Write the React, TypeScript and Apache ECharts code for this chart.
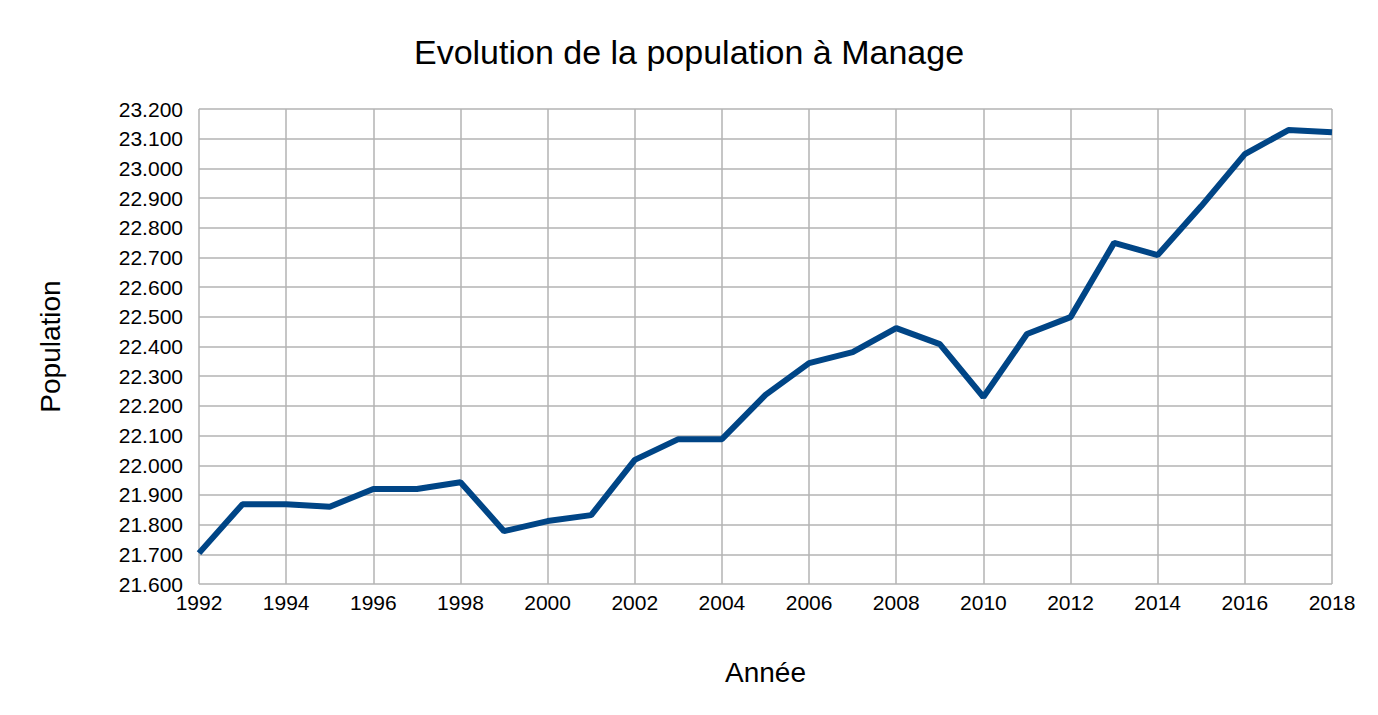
import React, { useEffect, useRef } from 'react';
import * as echarts from 'echarts';

const years = [1992, 1993, 1994, 1995, 1996, 1997, 1998, 1999, 2000, 2001, 2002, 2003, 2004, 2005, 2006, 2007, 2008, 2009, 2010, 2011, 2012, 2013, 2014, 2015, 2016, 2017, 2018];
const population = [21704, 21869, 21869, 21860, 21920, 21920, 21943, 21778, 21812, 21832, 22018, 22088, 22088, 22237, 22344, 22381, 22462, 22408, 22230, 22442, 22499, 22749, 22708, 22873, 23048, 23129, 23122];

const font = '"Liberation Sans", Arial, sans-serif';

const App: React.FC = () => {
  const chartRef = useRef<HTMLDivElement>(null);

  useEffect(() => {
    const chart = echarts.init(chartRef.current!, null, { renderer: 'svg' });
    chart.setOption({
      animation: false,
      backgroundColor: '#ffffff',
      title: {
        text: 'Evolution de la population à Manage',
        left: 'center',
        top: 30,
        textStyle: { fontFamily: font, fontSize: 34, fontWeight: 'normal', color: '#000' },
      },
      grid: { left: 199, right: 46, top: 109, bottom: 131 },
      xAxis: {
        type: 'value',
        min: 1992,
        max: 2018,
        interval: 2,
        name: 'Année',
        nameLocation: 'middle',
        nameGap: 74,
        nameTextStyle: { fontFamily: font, fontSize: 28, color: '#000' },
        axisLine: { show: false },
        axisTick: { show: false },
        axisLabel: { fontFamily: font, fontSize: 21, color: '#000', margin: 8, formatter: (v: number) => String(v) },
        splitLine: { show: true, lineStyle: { color: '#b3b3b3', width: 1.5 } },
      },
      yAxis: {
        type: 'value',
        min: 21600,
        max: 23200,
        interval: 100,
        name: 'Population',
        nameLocation: 'middle',
        nameGap: 135,
        nameTextStyle: { fontFamily: font, fontSize: 28, color: '#000' },
        axisLine: { show: false },
        axisTick: { show: false },
        axisLabel: {
          fontFamily: font,
          fontSize: 21,
          color: '#000',
          margin: 16,
          formatter: (v: number) => (v / 1000).toFixed(3),
        },
        splitLine: { show: true, lineStyle: { color: '#b3b3b3', width: 1.5 } },
      },
      series: [
        {
          type: 'line',
          data: years.map((y, i) => [y, population[i]]),
          showSymbol: false,
          lineStyle: { color: '#004586', width: 6 },
        },
      ],
    });
    return () => chart.dispose();
  }, []);

  return <div ref={chartRef} style={{ position: 'fixed', left: 0, top: 0, width: 1378, height: 715 }} />;
};

export default App;
